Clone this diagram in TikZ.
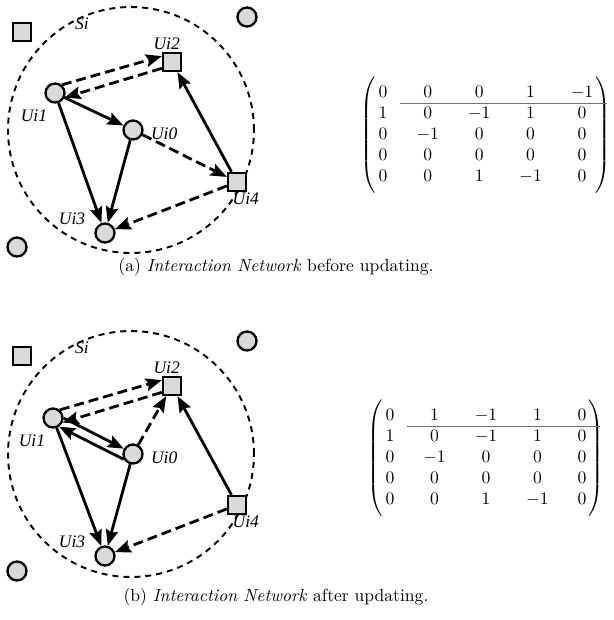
\documentclass[tikz,border=0pt]{standalone}
\usepackage{amsmath}
\usepackage{fontspec}
\newfontfamily\lblfont{Liberation Serif}
\usetikzlibrary{arrows.meta,positioning,matrix,calc}

\begin{document}
\begin{tikzpicture}[
  x=0.02cm, y=-0.02cm,
  >={Stealth[length=3.2mm,width=2.5mm,inset=0.5mm]},
  user/.style={circle,draw,fill=black!15,line width=1.3pt,minimum size=0.38cm,inner sep=0pt},
  server/.style={rectangle,draw,fill=black!15,line width=1.3pt,minimum size=0.36cm,inner sep=0pt},
  lbl/.style={font=\lblfont\itshape\fontsize{10}{11}\selectfont,inner sep=1pt},
  zone/.style={circle,draw,line width=1.1pt,dash pattern=on 1.2mm off 1mm,minimum size=4.92cm,inner sep=0pt},
  solidarr/.style={->,line width=1.6pt},
  dasharr/.style={->,line width=1.6pt,dash pattern=on 2mm off 1mm},
  cellmat/.style={matrix of math nodes,left delimiter=(,right delimiter=),
    column sep=16.5pt,row sep=0pt,inner xsep=0pt,inner ysep=3pt,
    nodes={anchor=center,inner sep=0pt,minimum height=0.42cm,text height=1.6ex,text depth=0.3ex}},
  sepline/.style={draw=black!55,line width=0.6pt}
]
\useasboundingbox (0,0) rectangle (614,620);

% -------------------------
% (a) before updating
% -------------------------
\node[zone] (za) at (131,130) {};
\node[lbl] (sa) at (82,24) {Si};

\node[server] (fa-1) at (22,32) {};
\node[user]   (fa-2) at (247,17) {};
\node[user]   (fa-3) at (17,247) {};

\node[user]   (ua-0) at (133,130) {};
\node[user]   (ua-1) at (55,93) {};
\node[server] (ua-2) at (172,62) {};
\node[user]   (ua-3) at (105,233) {};
\node[server] (ua-4) at (237,182) {};

\node[lbl,right=3pt of ua-0,yshift=-2pt] {Ui0};
\node[lbl,below left=4pt and -1pt of ua-1] {Ui1};
\node[lbl,above=0pt of ua-2,xshift=-3pt] {Ui2};
\node[lbl,left=4pt of ua-3,yshift=8pt] {Ui3};
\node[lbl,below=-1pt of ua-4,xshift=5pt] {Ui4};

\draw[dasharr] (ua-1.50) -- (ua-2.150);
\draw[dasharr] (ua-2.212) -- (ua-1.-25);
\draw[solidarr] (ua-1) -- (ua-0);
\draw[solidarr] (ua-1) -- (ua-3);
\draw[solidarr] (ua-0) -- (ua-3);
\draw[dasharr] (ua-0) -- (ua-4);
\draw[solidarr] (ua-4) -- (ua-2);
\draw[dasharr] (ua-4) -- (ua-3);

\matrix[cellmat] (ma) at (486,135) {
  0 & 0 & 0 & 1 & -1 \\
  1 & 0 & -1 & 1 & 0 \\
  0 & -1 & 0 & 0 & 0 \\
  0 & 0 & 0 & 0 & 0 \\
  0 & 0 & 1 & -1 & 0 \\
};
\draw[sepline] ([xshift=7pt]ma-1-1.south east) -- ([xshift=7.5pt]ma-1-5.south east);

\node (capa) at (276,267) {(a) \textit{Interaction Network} before updating.};

% -------------------------
% (b) after updating
% -------------------------
\begin{scope}[shift={(0,324)}]
\node[zone] (zb) at (131,130) {};
\node[lbl] (sb) at (82,24) {Si};

\node[server] (fb-1) at (22,32) {};
\node[user]   (fb-2) at (247,17) {};
\node[user]   (fb-3) at (17,247) {};

\node[user]   (ub-0) at (133,130) {};
\node[user]   (ub-1) at (53,94) {};
\node[server] (ub-2) at (172,62) {};
\node[user]   (ub-3) at (105,232) {};
\node[server] (ub-4) at (237,181) {};

\node[lbl,right=3pt of ub-0,yshift=-2pt] {Ui0};
\node[lbl,below left=4pt and -1pt of ub-1] {Ui1};
\node[lbl,above=0pt of ub-2,xshift=-3pt] {Ui2};
\node[lbl,left=4pt of ub-3,yshift=8pt] {Ui3};
\node[lbl,below=-1pt of ub-4,xshift=5pt] {Ui4};

\draw[dasharr] (ub-1.50) -- (ub-2.150);
\draw[dasharr] (ub-2.212) -- (ub-1.-25);
\draw[solidarr] (ub-1.0) -- (ub-0.150);
\draw[solidarr] (ub-0.210) -- (ub-1.-55);
\draw[dasharr] (ub-0) -- (ub-2);
\draw[solidarr] (ub-1) -- (ub-3);
\draw[solidarr] (ub-0) -- (ub-3);
\draw[solidarr] (ub-4) -- (ub-2);
\draw[dasharr] (ub-4) -- (ub-3);

\matrix[cellmat] (mb) at (486,134) {
  0 & 1 & -1 & 1 & 0 \\
  1 & 0 & -1 & 1 & 0 \\
  0 & -1 & 0 & 0 & 0 \\
  0 & 0 & 0 & 0 & 0 \\
  0 & 0 & 1 & -1 & 0 \\
};
\draw[sepline] ([xshift=7pt]mb-1-1.south east) -- ([xshift=7.5pt]mb-1-5.south east);

\node (capb) at (276,273) {(b) \textit{Interaction Network} after updating.};
\end{scope}

\end{tikzpicture}
\end{document}
